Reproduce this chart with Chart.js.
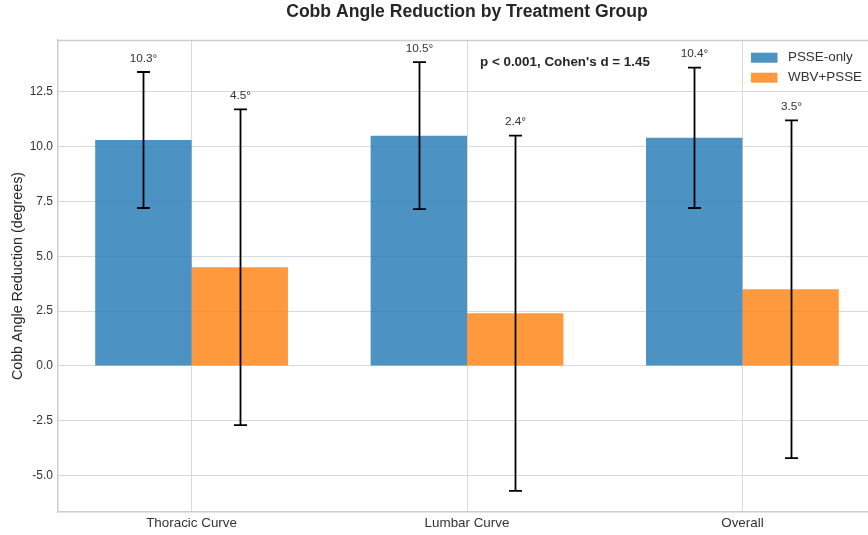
<!DOCTYPE html>
<html>
<head>
    <title>Cobb Angle Reduction</title>
    <script src="https://cdn.jsdelivr.net/npm/chart.js"></script>
    <style>
        body { margin: 0; background: #fff; }
        #wrap { width: 868px; height: 535px; overflow: hidden; }
    </style>
</head>
<body>
    <div id="wrap">
        <canvas id="myChart" width="876" height="535"></canvas>
    </div>

    <script>
        const categories = ['Thoracic Curve', 'Lumbar Curve', 'Overall'];
        const psseMeans = [10.3, 10.5, 10.4];
        const psseSD = [3.1, 3.35, 3.2];
        const wbvMeans = [4.5, 2.4, 3.5];
        const wbvSD = [7.2, 8.1, 7.7];
        const yTicks = [-5, -2.5, 0, 2.5, 5, 7.5, 10, 12.5];
        const seriesNames = ['PSSE-only', 'WBV+PSSE'];
        const statsNote = "p < 0.001, Cohen's d = 1.45";

        const blue = 'rgba(31, 119, 180, 0.8)';
        const orange = 'rgba(255, 127, 14, 0.8)';
        const FONT = "'Liberation Sans', Arial, sans-serif";

        // error bars, value labels, legend, note and title
        const extras = {
            id: 'extras',
            afterDatasetsDraw(chart) {
                const ctx = chart.ctx;
                const a = chart.chartArea;
                const y = chart.scales.y;
                ctx.save();

                // top spine
                ctx.strokeStyle = '#cccccc';
                ctx.lineWidth = 1.5;
                ctx.beginPath();
                ctx.moveTo(a.left, a.top + 0.5);
                ctx.lineTo(a.right, a.top + 0.5);
                ctx.stroke();

                const groups = [[psseMeans, psseSD], [wbvMeans, wbvSD]];
                groups.forEach(([means, sds], d) => {
                    chart.getDatasetMeta(d).data.forEach((bar, i) => {
                        const x = Math.round(bar.x) + 0.5;
                        const top = y.getPixelForValue(means[i] + sds[i]);
                        const bot = y.getPixelForValue(means[i] - sds[i]);
                        ctx.strokeStyle = '#000';
                        ctx.lineWidth = 1.8;
                        ctx.beginPath();
                        ctx.moveTo(x, top);
                        ctx.lineTo(x, bot);
                        ctx.moveTo(x - 6.5, top);
                        ctx.lineTo(x + 6.5, top);
                        ctx.moveTo(x - 6.5, bot);
                        ctx.lineTo(x + 6.5, bot);
                        ctx.stroke();

                        ctx.fillStyle = '#333';
                        ctx.font = '11.8px ' + FONT;
                        ctx.textAlign = 'center';
                        ctx.textBaseline = 'bottom';
                        ctx.fillText(means[i].toFixed(1) + '°', x, y.getPixelForValue(means[i] + sds[i] + 0.35));
                    });
                });

                // stats note
                ctx.fillStyle = '#262626';
                ctx.font = 'bold 13.4px ' + FONT;
                ctx.textAlign = 'left';
                ctx.textBaseline = 'middle';
                ctx.fillText(statsNote, 480, 62);

                // legend
                const colors = [blue, orange];
                seriesNames.forEach((name, k) => {
                    const cy = 57.7 + k * 20;
                    ctx.fillStyle = colors[k];
                    ctx.fillRect(751, cy - 5, 26.5, 10);
                    ctx.fillStyle = '#333';
                    ctx.font = '13.4px ' + FONT;
                    ctx.textAlign = 'left';
                    ctx.textBaseline = 'middle';
                    ctx.fillText(name, 788, cy);
                });

                // title
                ctx.fillStyle = '#262626';
                ctx.font = 'bold 17.6px ' + FONT;
                ctx.textAlign = 'center';
                ctx.textBaseline = 'middle';
                ctx.fillText('Cobb Angle Reduction by Treatment Group', (a.left + a.right) / 2, 12.5);

                ctx.restore();
            }
        };

        const ctx = document.getElementById('myChart').getContext('2d');
        new Chart(ctx, {
            type: 'bar',
            data: {
                datasets: [
                    {
                        label: seriesNames[0],
                        data: categories.map((c, i) => ({ x: i, y: psseMeans[i] })),
                        backgroundColor: blue,
                        borderWidth: 0
                    },
                    {
                        label: seriesNames[1],
                        data: categories.map((c, i) => ({ x: i, y: wbvMeans[i] })),
                        backgroundColor: orange,
                        borderWidth: 0
                    }
                ]
            },
            options: {
                responsive: false,
                animation: false,
                layout: { padding: { top: 40, left: 0, right: 0, bottom: 0 } },
                datasets: { bar: { categoryPercentage: 0.7, barPercentage: 1.0 } },
                plugins: {
                    legend: { display: false },
                    title: { display: false },
                    tooltip: { enabled: false }
                },
                scales: {
                    x: {
                        type: 'linear',
                        min: -0.485,
                        max: 2.485,
                        offset: false,
                        afterFit: s => { s.height = 23; },
                        afterBuildTicks: s => { s.ticks = categories.map((c, i) => ({ value: i })); },
                        ticks: {
                            callback: v => categories[v],
                            color: '#333',
                            font: { family: FONT, size: 13.4 },
                            padding: 3,
                            maxRotation: 0,
                            autoSkip: false
                        },
                        grid: { color: '#d9d9d9', lineWidth: 1, offset: false, drawTicks: false },
                        border: { color: '#cccccc', width: 1.5 }
                    },
                    y: {
                        min: -6.66,
                        max: 14.86,
                        afterFit: s => { s.width = 58; },
                        afterBuildTicks: s => { s.ticks = yTicks.map(v => ({ value: v })); },
                        ticks: {
                            callback: v => v.toFixed(1),
                            color: '#333',
                            font: { family: FONT, size: 12 },
                            padding: 5
                        },
                        grid: { color: '#d9d9d9', lineWidth: 1, drawTicks: false },
                        border: { color: '#cccccc', width: 1.5 },
                        title: {
                            display: true,
                            text: 'Cobb Angle Reduction (degrees)',
                            color: '#262626',
                            font: { family: FONT, size: 14.3 },
                            padding: { top: 9, bottom: 0 }
                        }
                    }
                }
            },
            plugins: [extras]
        });
    </script>
</body>
</html>
